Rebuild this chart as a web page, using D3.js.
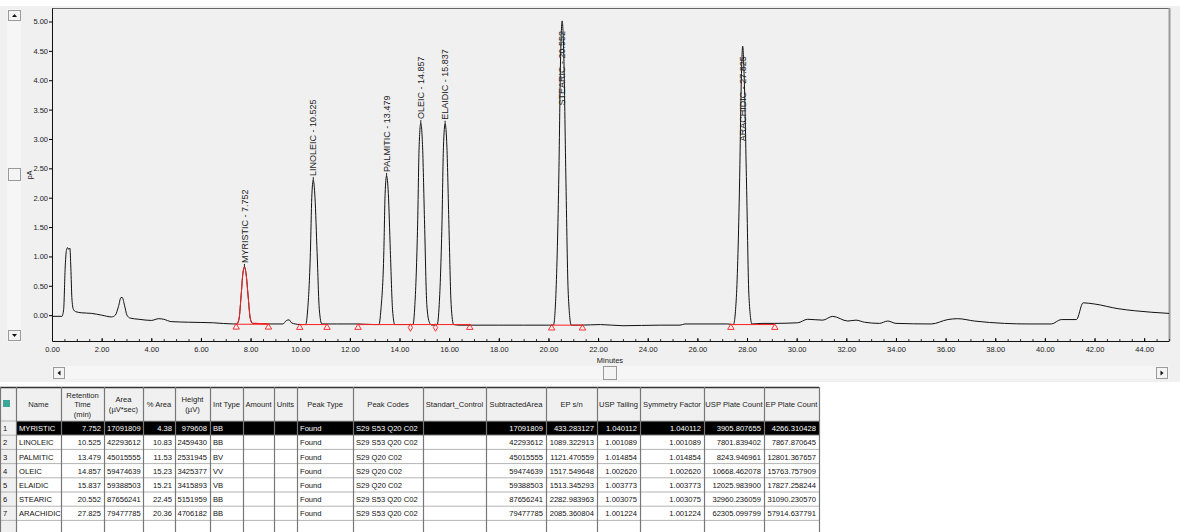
<!DOCTYPE html>
<html>
<head>
<meta charset="utf-8">
<script src="https://cdn.jsdelivr.net/npm/d3@7"></script>
<style>
  body { margin: 0; background: #fff; font-family: "Liberation Sans", Arial, sans-serif; }
  svg { display: block; }
  .tick text { font-size: 7.5px; fill: #222; font-family: "Liberation Sans", Arial, sans-serif; }
  .cell { font-size: 7.6px; }
</style>
</head>
<body>
<div id="vis"></div>
<script>
// ---------------------------------- DATOS ----------------------------------------------
const NAMES = ["MYRISTIC", "LINOLEIC", "PALMITIC", "OLEIC", "ELAIDIC", "STEARIC", "ARACHIDIC"];
const RET_TIME = [7.752, 10.525, 13.479, 14.857, 15.837, 20.552, 27.825];
const AREA = [17091809, 42293612, 45015555, 59474639, 59388503, 87656241, 79477785];
const PCT_AREA = [4.38, 10.83, 11.53, 15.23, 15.21, 22.45, 20.36];
const HEIGHT_UV = [979608, 2459430, 2531945, 3425377, 3415893, 5151959, 4706182];
const INT_TYPE = ["BB", "BB", "BV", "VV", "VB", "BB", "BB"];
const PEAK_TYPE = ["Found", "Found", "Found", "Found", "Found", "Found", "Found"];
const PEAK_CODES = ["S29 S53 Q20 C02", "S29 S53 Q20 C02", "S29 Q20 C02", "S29 Q20 C02",
                    "S29 Q20 C02", "S29 S53 Q20 C02", "S29 S53 Q20 C02"];
const SUBTRACTED_AREA = [17091809, 42293612, 45015555, 59474639, 59388503, 87656241, 79477785];
const EP_SN = [433.283127, 1089.322913, 1121.470559, 1517.549648, 1513.345293, 2282.983963, 2085.360804];
const USP_TAILING = [1.040112, 1.001089, 1.014854, 1.002620, 1.003773, 1.003075, 1.001224];
const SYMMETRY = [1.040112, 1.001089, 1.014854, 1.002620, 1.003773, 1.003075, 1.001224];
const USP_PLATE = [3905.807655, 7801.839402, 8243.946961, 10668.462078, 12025.983900, 32960.236059, 62305.099799];
const EP_PLATE = [4266.310428, 7867.870645, 12801.367657, 15763.757909, 17827.258244, 31090.230570, 57914.637791];

// cromatograma: [min, pA]
const TRACE = [
  [0, -0.02], [0.40, -0.02], [0.47, 0.1], [0.53, 0.8], [0.58, 1.1], [0.63, 1.15], [0.68, 1.12],
  [0.72, 1.14], [0.76, 0.8], [0.80, 0.3], [0.86, 0.1], [0.95, 0.06], [1.2, 0.04], [1.6, 0.03],
  [2.0, 0.0], [2.4, -0.03], [2.55, 0.0], [2.68, 0.15], [2.78, 0.30], [2.83, 0.30], [2.92, 0.17],
  [3.02, 0.0], [3.15, -0.05], [3.5, -0.07], [4.0, -0.09], [4.3, -0.06], [4.5, -0.07], [4.8, -0.11],
  [5.5, -0.12], [6.5, -0.13], [7.3, -0.15],
  [7.45, -0.15], [7.54, -0.05], [7.62, 0.34], [7.69, 0.71], [7.752, 0.82], [7.82, 0.70],
  [7.90, 0.33], [7.99, -0.06], [8.08, -0.14], [8.2, -0.14], [8.7, -0.15],
  [9.3, -0.15], [9.45, -0.09], [9.55, -0.08], [9.65, -0.13], [9.8, -0.15], [10.0, -0.16],
  [10.22, -0.16], [10.30, 0.09], [10.41, 1.07], [10.465, 2.0], [10.525, 2.30], [10.595, 2.0],
  [10.68, 1.07], [10.77, 0.09], [10.87, -0.15],
  [11.5, -0.15], [12.3, -0.15], [13.0, -0.16],
  [13.17, -0.16], [13.25, 0.09], [13.37, 1.1], [13.42, 2.07], [13.479, 2.37], [13.55, 2.07],
  [13.63, 1.1], [13.72, 0.09], [13.81, -0.16], [14.0, -0.16], [14.4, -0.16],
  [14.54, -0.16], [14.62, 0.18], [14.73, 1.55], [14.79, 2.86], [14.857, 3.27], [14.93, 2.86],
  [15.01, 1.55], [15.10, 0.18], [15.2, -0.12], [15.3, -0.17],
  [15.52, -0.16], [15.60, 0.18], [15.71, 1.55], [15.77, 2.86], [15.837, 3.26], [15.91, 2.86],
  [15.99, 1.55], [16.08, 0.18], [16.18, -0.16], [16.4, -0.17],
  [16.8, -0.17], [18.0, -0.17], [19.0, -0.17], [20.0, -0.17],
  [20.20, -0.17], [20.30, 0.35], [20.42, 2.4], [20.49, 4.4], [20.552, 5.01], [20.62, 4.4],
  [20.70, 2.4], [20.80, 0.35], [20.92, -0.17],
  [21.3, -0.17], [22.1, -0.16], [23.0, -0.18], [24.5, -0.17], [25.3, -0.17], [25.5, -0.15],
  [27.2, -0.15],
  [27.45, -0.16], [27.57, 0.3], [27.70, 2.25], [27.77, 4.0], [27.825, 4.58], [27.89, 4.0],
  [27.98, 2.25], [28.08, 0.3], [28.2, -0.15],
  [28.6, -0.14], [29.1, -0.14], [30.04, -0.13], [30.44, -0.07], [31.05, -0.085], [31.45, -0.02],
  [32.06, -0.10], [32.39, -0.085], [32.73, -0.12], [33.33, -0.14], [33.67, -0.10], [34.0, -0.14],
  [35.42, -0.15], [36.09, -0.075], [36.49, -0.06], [37.16, -0.10], [38.37, -0.14], [39.32, -0.15],
  [40.26, -0.15], [40.66, -0.075], [41.27, -0.075], [41.54, 0.21], [42.0, 0.19], [42.95, 0.11],
  [43.62, 0.075], [45.0, 0.03]
];

// lineas base de integracion
const BASE_FROM = [7.42, 9.98, 12.33, 20.13, 27.35];
const BASE_TO = [8.72, 11.08, 16.83, 21.37, 29.12];
const BASE_LEVEL = [-0.155, -0.16, -0.16, -0.17, -0.16];
const DROP_TIME = [14.44, 15.45];
const DROP_LEVEL = [-0.16, -0.16];

const SELECTED = 0;

const Y_TICKS = d3.range(0, 5.01, 0.5);
const X_TICKS = d3.range(0, 45, 2);
const X_MINOR = d3.range(0, 45.01, 0.5);

const HEADERS = ["", "Name", "Retention\nTime\n(min)", "Area\n(µV*sec)", "% Area", "Height\n(µV)",
  "Int Type", "Amount", "Units", "Peak Type", "Peak Codes", "Standart_Control", "SubtractedArea",
  "EP s/n", "USP Tailing", "Symmetry Factor", "USP Plate Count", "EP Plate Count"];

// ---------------------------------- SVG ------------------------------------------------
const WIDTH = 1180;
const HEIGHT = 532;
const SVG = d3.select("#vis").append("svg").attr("width", WIDTH).attr("height", HEIGHT);

SVG.append("rect").attr("x", 0).attr("y", 6).attr("width", WIDTH).attr("height", 376).attr("fill", "#f0f0f0");

const PLOT = { left: 52, right: 1169, top: 8, bottom: 341 };
const x = d3.scaleLinear().domain([0, 45]).range([PLOT.left, PLOT.right]);
const y = d3.scaleLinear().domain([-0.44, 5.23]).range([PLOT.bottom, PLOT.top]);

SVG.append("clipPath").attr("id", "clip").append("rect")
  .attr("x", PLOT.left).attr("y", PLOT.top).attr("width", PLOT.right - PLOT.left).attr("height", PLOT.bottom - PLOT.top);

// marco
SVG.append("line").attr("x1", PLOT.left).attr("x2", PLOT.right).attr("y1", PLOT.top + 0.5).attr("y2", PLOT.top + 0.5)
  .attr("stroke", "#666");
SVG.append("line").attr("x1", PLOT.right + 0.5).attr("x2", PLOT.right + 0.5).attr("y1", PLOT.top).attr("y2", PLOT.bottom)
  .attr("stroke", "#999").attr("stroke-width", 2);

// ejes
const gy = SVG.append("g").attr("transform", `translate(${PLOT.left},0)`)
  .call(d3.axisLeft(y).tickValues(Y_TICKS).tickFormat(d3.format(".2f")).tickSize(3).tickSizeOuter(0).tickPadding(1));
gy.select(".domain").attr("stroke", "#111");

const gxm = SVG.append("g").attr("transform", `translate(0,${PLOT.bottom})`)
  .call(d3.axisBottom(x).tickValues(X_MINOR).tickFormat("").tickSize(-2).tickSizeOuter(0));
gxm.select(".domain").remove();
gxm.selectAll("line").attr("stroke", "#333");

const gx = SVG.append("g").attr("transform", `translate(0,${PLOT.bottom})`)
  .call(d3.axisBottom(x).tickValues(X_TICKS).tickFormat(d3.format(".2f")).tickSize(-3).tickSizeOuter(0).tickPadding(6));
gx.select(".domain").attr("stroke", "#111");

SVG.append("text").attr("x", 610).attr("y", 363).attr("text-anchor", "middle")
  .attr("font-size", 7.5).attr("fill", "#222").text("Minutes");
SVG.append("text").attr("transform", "translate(32,175) rotate(-90)").attr("text-anchor", "middle")
  .attr("font-size", 7.5).attr("fill", "#222").text("pA");

// cromatograma
const line = d3.line().x(d => x(d[0])).y(d => y(d[1])).curve(d3.curveMonotoneX);
const plot = SVG.append("g").attr("clip-path", "url(#clip)");

plot.append("path").datum(TRACE).attr("d", line)
  .attr("fill", "none").attr("stroke", "#111").attr("stroke-width", 1);

plot.selectAll(".base").data(BASE_FROM).join("line").attr("class", "base")
  .attr("x1", d => x(d)).attr("x2", (d, i) => x(BASE_TO[i]))
  .attr("y1", (d, i) => y(BASE_LEVEL[i])).attr("y2", (d, i) => y(BASE_LEVEL[i]))
  .attr("stroke", "#ff2020").attr("stroke-width", 1);

// pico seleccionado en rojo
const sel = TRACE.filter(d => d[0] >= BASE_FROM[SELECTED] && d[0] <= BASE_TO[SELECTED]);
plot.append("path").datum(sel).attr("d", line)
  .attr("fill", "none").attr("stroke", "#ff2020").attr("stroke-width", 1);

const tri = d3.symbol().type(d3.symbolTriangle).size(18);
const dia = d3.symbol().type(d3.symbolDiamond).size(16);
const marks = [];
BASE_FROM.forEach((d, i) => { marks.push([d, BASE_LEVEL[i]]); marks.push([BASE_TO[i], BASE_LEVEL[i]]); });
SVG.selectAll(".mk").data(marks).join("path").attr("class", "mk")
  .attr("transform", d => `translate(${x(d[0])},${y(d[1]) + 3})`)
  .attr("d", tri).attr("fill", "none").attr("stroke", "#ff2020").attr("stroke-width", 0.9);
SVG.selectAll(".dr").data(DROP_TIME).join("path").attr("class", "dr")
  .attr("transform", (d, i) => `translate(${x(d)},${y(DROP_LEVEL[i]) + 3})`)
  .attr("d", dia).attr("fill", "none").attr("stroke", "#ff2020").attr("stroke-width", 0.9);

// etiquetas de picos
const labels = SVG.append("g");
NAMES.forEach((n, i) => {
  const apex = d3.max(TRACE.filter(d => Math.abs(d[0] - RET_TIME[i]) < 0.1), d => d[1]);
  const px = x(RET_TIME[i]), py = y(apex);
  const t = labels.append("text").attr("font-size", 9).attr("fill", "#222")
    .attr("dy", "0.35em").text(`${n} - ${RET_TIME[i].toFixed(3)}`);
  const len = t.node().getComputedTextLength();
  if (py - 4 - len > PLOT.top + 2) {
    t.attr("transform", `translate(${px},${py - 4}) rotate(-90)`).attr("text-anchor", "start");
    labels.append("line").attr("x1", px).attr("x2", px).attr("y1", py).attr("y2", py - 3).attr("stroke", "#222");
  } else {
    t.attr("transform", `translate(${px},${py + 10}) rotate(-90)`).attr("text-anchor", "end");
  }
});

// barras de desplazamiento
function button(x0, y0, w, h, arrow) {
  SVG.append("rect").attr("x", x0 + 0.5).attr("y", y0 + 0.5).attr("width", w).attr("height", h)
    .attr("fill", "#f4f4f4").attr("stroke", "#9a9a9a");
  if (arrow) {
    const cx = x0 + w / 2 + 0.5, cy = y0 + h / 2 + 0.5;
    const p = { up: [[cx - 2.5, cy + 1.5], [cx + 2.5, cy + 1.5], [cx, cy - 1.5]],
                down: [[cx - 2.5, cy - 1.5], [cx + 2.5, cy - 1.5], [cx, cy + 1.5]],
                left: [[cx + 1.5, cy - 2.5], [cx + 1.5, cy + 2.5], [cx - 1.5, cy]],
                right: [[cx - 1.5, cy - 2.5], [cx - 1.5, cy + 2.5], [cx + 1.5, cy]] }[arrow];
    SVG.append("path").attr("d", "M" + p.join("L") + "Z").attr("fill", "#111");
  }
}
SVG.append("rect").attr("x", 7).attr("y", 9).attr("width", 14).attr("height", 333).attr("fill", "#f6f6f6");
button(8, 10, 12, 10, "up");
button(8, 168, 12, 12, null);
button(8, 330, 12, 10, "down");
SVG.append("rect").attr("x", PLOT.left).attr("y", 366).attr("width", PLOT.right - PLOT.left).attr("height", 13).attr("fill", "#f6f6f6");
button(53, 367, 11, 11, "left");
button(603, 366, 13, 13, null);
button(1156, 367, 11, 11, "right");

// ---------------------------------- TABLA ----------------------------------------------
const COLS = [0, 16, 61, 104, 143, 175, 210, 243, 274, 297, 353, 423, 486, 546, 597, 640, 704, 764, 819];
const ALIGN = ["l", "l", "r", "l", "r", "r", "l", "l", "l", "l", "l", "l", "r", "r", "r", "r", "r", "r"];
const TOP = 387, HEAD_H = 34, ROW_H = 14.2;
const f6 = d3.format(".6f");

const rows = NAMES.map((n, i) => [String(i + 1), n, RET_TIME[i].toFixed(3), String(AREA[i]),
  PCT_AREA[i].toFixed(2), String(HEIGHT_UV[i]), INT_TYPE[i], "", "", PEAK_TYPE[i], PEAK_CODES[i], "",
  String(SUBTRACTED_AREA[i]), f6(EP_SN[i]), f6(USP_TAILING[i]), f6(SYMMETRY[i]), f6(USP_PLATE[i]), f6(EP_PLATE[i])]);
rows.push(HEADERS.map(() => ""));

const T = SVG.append("g");
T.append("rect").attr("x", 0).attr("y", TOP).attr("width", COLS[COLS.length - 1]).attr("height", HEIGHT - TOP).attr("fill", "#fff");
T.append("rect").attr("x", 0).attr("y", TOP).attr("width", COLS[COLS.length - 1]).attr("height", HEAD_H).attr("fill", "#f0f0f0");
T.append("rect").attr("x", 0).attr("y", TOP + HEAD_H).attr("width", COLS[1]).attr("height", HEIGHT - TOP - HEAD_H).attr("fill", "#f0f0f0");
T.append("rect").attr("x", COLS[1]).attr("y", TOP + HEAD_H + SELECTED * ROW_H)
  .attr("width", COLS[COLS.length - 1] - COLS[1]).attr("height", ROW_H).attr("fill", "#000");
T.append("rect").attr("x", 3).attr("y", TOP + 13).attr("width", 7).attr("height", 7).attr("fill", "#3aa79a");

HEADERS.forEach((h, c) => {
  const parts = h.split("\n");
  const tx = T.append("text").attr("class", "cell").attr("text-anchor", "middle").attr("fill", "#222")
    .attr("x", (COLS[c] + COLS[c + 1]) / 2)
    .attr("y", TOP + HEAD_H / 2 + 3 - (parts.length - 1) * 4.75);
  parts.forEach((p, k) => tx.append("tspan").attr("x", (COLS[c] + COLS[c + 1]) / 2).attr("dy", k ? 9.5 : 0).text(p));
});

rows.forEach((r, i) => {
  const ty = TOP + HEAD_H + i * ROW_H + ROW_H / 2 + 3;
  r.forEach((v, c) => {
    const right = ALIGN[c] === "r";
    T.append("text").attr("class", "cell")
      .attr("x", right ? COLS[c + 1] - 3 : COLS[c] + 3).attr("y", ty)
      .attr("text-anchor", right ? "end" : "start")
      .attr("fill", i === SELECTED && c > 0 ? "#fff" : "#111").text(v);
  });
});

// lineas de la tabla
const nRows = rows.length;
d3.range(nRows + 1).forEach(k => {
  const yy = TOP + HEAD_H + k * ROW_H;
  if (yy < HEIGHT) T.append("line").attr("x1", 0).attr("x2", COLS[COLS.length - 1]).attr("y1", yy).attr("y2", yy)
    .attr("stroke", "#b4b4b4");
});
T.append("line").attr("x1", 0).attr("x2", COLS[COLS.length - 1]).attr("y1", TOP + 0.5).attr("y2", TOP + 0.5)
  .attr("stroke", "#333").attr("stroke-width", 1.5);
COLS.forEach(cx => {
  T.append("line").attr("x1", cx + 0.5).attr("x2", cx + 0.5).attr("y1", TOP).attr("y2", HEIGHT)
    .attr("stroke", "#777").attr("stroke-width", 1.2);
});
</script>
</body>
</html>
